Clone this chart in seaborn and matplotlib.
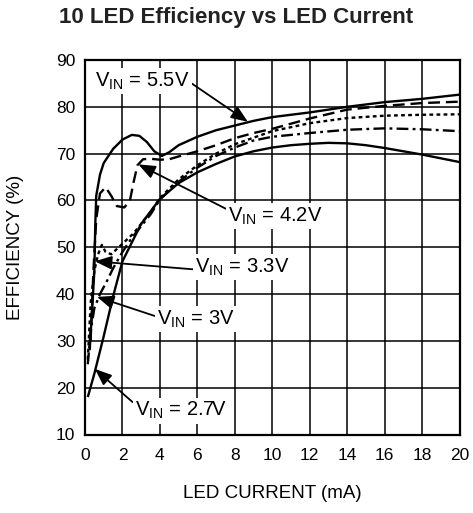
import numpy as np
import pandas as pd
import matplotlib
matplotlib.use("Agg")
import matplotlib.pyplot as plt
import seaborn as sns

# ---- data ----
x_55 = [0.25, 0.4, 0.5, 0.55, 0.6, 0.8, 1.0, 1.5, 2.0, 2.5, 2.9, 3.3, 3.7, 4.1, 4.5, 5, 6, 7, 8, 9, 10, 12, 14, 16, 18, 20]
y_55 = [28, 38, 45, 55, 61, 65.5, 68, 71, 73, 74, 73.8, 72.5, 70.5, 69.5, 70.3, 71.8, 73.6, 75, 76, 77, 77.8, 78.8, 80, 81, 81.7, 82.6]

x_42 = [0.3, 0.45, 0.6, 0.8, 1.1, 1.4, 1.7, 2.1, 2.4, 2.6, 2.8, 3.1, 3.5, 4, 4.5, 5, 6, 7, 8, 9, 10, 12, 14, 16, 18, 20]
y_42 = [30, 45, 56, 61.5, 62.8, 61, 58.8, 58.5, 60, 64, 67.5, 68.8, 68.9, 68.7, 68.8, 69.4, 70.5, 71.8, 73.3, 74.4, 75.3, 77.5, 79.4, 80.2, 80.8, 81.1]

x_33 = [0.15, 0.3, 0.5, 0.7, 0.9, 1.1, 1.4, 1.8, 2.2, 2.6, 3, 3.5, 4, 5, 6, 7, 8, 9, 10, 12, 14, 16, 18, 20]
y_33 = [26, 38, 45, 48.5, 50.5, 49, 48.5, 50, 51.5, 53, 55, 57.5, 60.5, 64.5, 67.5, 70, 72, 73.4, 74.8, 76.5, 77.6, 78.1, 78.3, 78.4]

x_30 = [0.15, 0.3, 0.5, 0.8, 1.0, 1.2, 1.5, 2, 2.5, 3, 3.5, 4, 5, 6, 7, 8, 9, 10, 12, 14, 16, 18, 20]
y_30 = [25, 32, 37, 40, 41.5, 43, 45.5, 49, 52, 54.5, 57, 60.2, 64, 67, 69.5, 71.3, 72.8, 73.6, 74.4, 75.1, 75.4, 75.2, 74.8]

x_27 = [0.15, 0.5, 1, 1.5, 2, 3, 4, 5, 6, 7, 8, 9, 10, 11, 12, 13, 14, 15, 16, 17, 18, 19, 20]
y_27 = [18, 23, 31, 39.5, 47, 55, 60.3, 63.7, 66, 67.8, 69.4, 70.5, 71.3, 71.8, 72.1, 72.3, 72.2, 71.8, 71.2, 70.5, 69.8, 69, 68.2]

x_ticks = [0, 2, 4, 6, 8, 10, 12, 14, 16, 18, 20]
y_ticks = [10, 20, 30, 40, 50, 60, 70, 80, 90]

labels = ["V$_{\\mathrm{IN}}$ = 5.5V", "V$_{\\mathrm{IN}}$ = 4.2V", "V$_{\\mathrm{IN}}$ = 3.3V",
          "V$_{\\mathrm{IN}}$ = 3V", "V$_{\\mathrm{IN}}$ = 2.7V"]

# ---- style ----
sns.set_theme(style="white")
plt.rcParams['font.family'] = ['Liberation Sans', 'DejaVu Sans']
plt.rcParams['mathtext.fontset'] = 'custom'
plt.rcParams['mathtext.rm'] = 'Liberation Sans'
plt.rcParams['mathtext.it'] = 'Liberation Sans:italic'
plt.rcParams['mathtext.bf'] = 'Liberation Sans:bold'

fig = plt.figure(figsize=(4.73, 5.13), dpi=100)
L, R, T, B = 85, 459.5, 60, 434.5
ax = fig.add_axes([L/473, 1-B/513, (R-L)/473, (B-T)/513])

series = [
    (x_55, y_55, (0, ())),
    (x_42, y_42, (0, (5, 2.5))),
    (x_33, y_33, (0, (1.6, 1.4))),
    (x_30, y_30, (0, (5, 1.8, 1.2, 1.8))),
    (x_27, y_27, (0, ())),
]
for xs, ys, ls in series:
    df = pd.DataFrame({"x": xs, "y": ys})
    sns.lineplot(data=df, x="x", y="y", ax=ax, color="black", lw=1.7,
                 linestyle=ls, sort=False, estimator=None, zorder=3)

ax.set_xlim(0, 20)
ax.set_ylim(10, 90)
ax.set_xticks(x_ticks)
ax.set_yticks(y_ticks)
ax.grid(True, color="black", lw=1.1, zorder=1)
ax.set_axisbelow(True)
for s in ax.spines.values():
    s.set_color("black")
    s.set_linewidth(1.6)
ax.tick_params(length=0, labelsize=12.5, colors="black")
ax.tick_params(axis="x", pad=10)
ax.tick_params(axis="y", pad=7)
ax.set_xlabel("LED CURRENT (mA)", fontsize=13.5, color="black")
ax.set_ylabel("EFFICIENCY (%)", fontsize=13.5, color="black")
ax.xaxis.set_label_coords(0.5, (B - 485) / (B - T))
ax.yaxis.set_label_coords((24 - L) / (R - L), 0.5)

fig.text(0.5, 1-18/513, "10 LED Efficiency vs LED Current", ha="center", va="center",
         fontsize=16, fontweight="bold", color="#222222")

# annotations: (text, text xy, arrow tip, relpos)
ann = [
    (labels[0], (0.55, 85.5), (8.7, 76.8), (1.0, 0.45)),
    (labels[1], (7.65, 56.6), (2.85, 67.7), (0.0, 0.8)),
    (labels[2], (5.9, 45.7), (0.53, 47.0), (0.0, 0.4)),
    (labels[3], (3.85, 34.7), (0.64, 39.4), (0.0, 0.6)),
    (labels[4], (2.67, 15.1), (0.53, 24.0), (0.0, 0.8)),
]
for txt, xyt, tip, rp in ann:
    ax.annotate(txt, xy=tip, xytext=xyt, ha="left", va="center", fontsize=14.5,
                color="black", zorder=5,
                bbox=dict(boxstyle="square,pad=0.12", fc="white", ec="none"),
                arrowprops=dict(arrowstyle="-|>,head_length=0.7,head_width=0.28",
                                color="black", lw=1.3, shrinkA=0, shrinkB=0,
                                relpos=rp))

fig.savefig("out.png", dpi=100)
